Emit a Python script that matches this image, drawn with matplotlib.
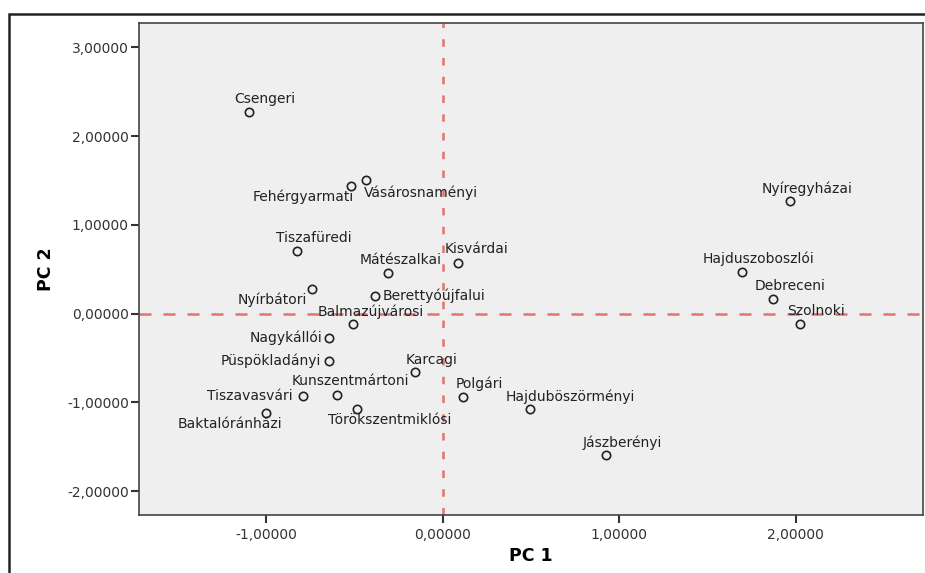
import matplotlib.pyplot as plt
from matplotlib.ticker import FuncFormatter
from matplotlib.patches import Rectangle

# PCA scores per district
jarasok = ['Csengeri', 'Fehérgyarmati', 'Vásárosnaményi', 'Tiszafüredi', 'Mátészalkai',
           'Kisvárdai', 'Nyíregyházai', 'Hajduszoboszlói', 'Debreceni', 'Szolnoki',
           'Nyírbátori', 'Berettyóújfalui', 'Balmazújvárosi', 'Nagykállói', 'Püspökladányi',
           'Karcagi', 'Kunszentmártoni', 'Tiszavasvári', 'Baktalóránházi', 'Törökszentmiklósi',
           'Polgári', 'Hajduböszörményi', 'Jászberényi']
pc1 = [-1.097, -0.522, -0.437, -0.825, -0.312,
       0.086, 1.970, 1.696, 1.870, 2.023,
       -0.743, -0.384, -0.507, -0.643, -0.643,
       -0.157, -0.598, -0.791, -1.004, -0.488,
       0.113, 0.495, 0.926]
pc2 = [2.266, 1.440, 1.500, 0.700, 0.462,
       0.572, 1.263, 0.474, 0.166, -0.120,
       0.278, 0.203, -0.120, -0.270, -0.533,
       -0.661, -0.917, -0.928, -1.116, -1.078,
       -0.936, -1.074, -1.593]

# label offsets in pixels (dx, dy screen-up), label centre relative to point
eltolas = {
    'Csengeri': (16, 13), 'Fehérgyarmati': (-47, -11), 'Vásárosnaményi': (55, -12),
    'Tiszafüredi': (17, 13), 'Mátészalkai': (13, 13), 'Kisvárdai': (19, 14),
    'Nyíregyházai': (17, 13), 'Hajduszoboszlói': (16, 13), 'Debreceni': (17, 13),
    'Szolnoki': (16, 13), 'Nyírbátori': (-39, -11), 'Berettyóújfalui': (59, 0),
    'Balmazújvárosi': (17, 12), 'Nagykállói': (-43, 0), 'Püspökladányi': (-59, 0),
    'Karcagi': (16, 12), 'Kunszentmártoni': (13, 14), 'Tiszavasvári': (-53, 0),
    'Baktalóránházi': (-36, -11), 'Törökszentmiklósi': (33, -11), 'Polgári': (17, 13),
    'Hajduböszörményi': (40, 12), 'Jászberényi': (16, 12),
}

plt.rcParams['font.family'] = ['DejaVu Sans']

fig = plt.figure(figsize=(9.25, 5.73), dpi=100)
ax = fig.add_axes([0.1506, 0.1012, 0.847, 0.858])
ax.set_facecolor('#efefef')

ax.axhline(0, color='#e3736b', lw=1.8, dashes=(4.8, 4.8), zorder=1)
ax.axvline(0, color='#e3736b', lw=1.8, dashes=(3, 4.5), zorder=1)

ax.plot(pc1, pc2, 'o', ms=6, mfc='none', mec='#222222', mew=1.2, zorder=3)

for nev, x, y in zip(jarasok, pc1, pc2):
    dx, dy = eltolas[nev]
    ax.annotate(nev, (x, y), xytext=(dx, dy), textcoords='offset pixels',
                ha='center', va='center', fontsize=10, color='#222222', zorder=4)

ax.set_xlim(-1.72, 2.72)
ax.set_ylim(-2.27, 3.27)
ax.set_xticks([-1, 0, 1, 2])
ax.set_yticks([-2, -1, 0, 1, 2, 3])
fmt = FuncFormatter(lambda v, p: f'{v:.5f}'.replace('.', ','))
ax.xaxis.set_major_formatter(fmt)
ax.yaxis.set_major_formatter(fmt)
ax.tick_params(direction='out', length=6, width=1.5, color='#333333',
               labelsize=10, labelcolor='#333333')
ax.tick_params(axis='y', pad=1.5)
ax.tick_params(axis='x', pad=3)
for s in ax.spines.values():
    s.set_color('#444444')
    s.set_linewidth(1.2)

ax.set_xlabel('PC 1', fontsize=12.5, fontweight='bold', labelpad=4)
ax.set_ylabel('PC 2', fontsize=12.5, fontweight='bold', labelpad=9)

# outer frame
fig.patches.append(Rectangle((9 / 925, -0.05), 1.2, (573 - 14) / 573 + 0.05,
                             transform=fig.transFigure, fill=False,
                             edgecolor='#222222', lw=1.8))

fig.savefig('out.png', dpi=100)
